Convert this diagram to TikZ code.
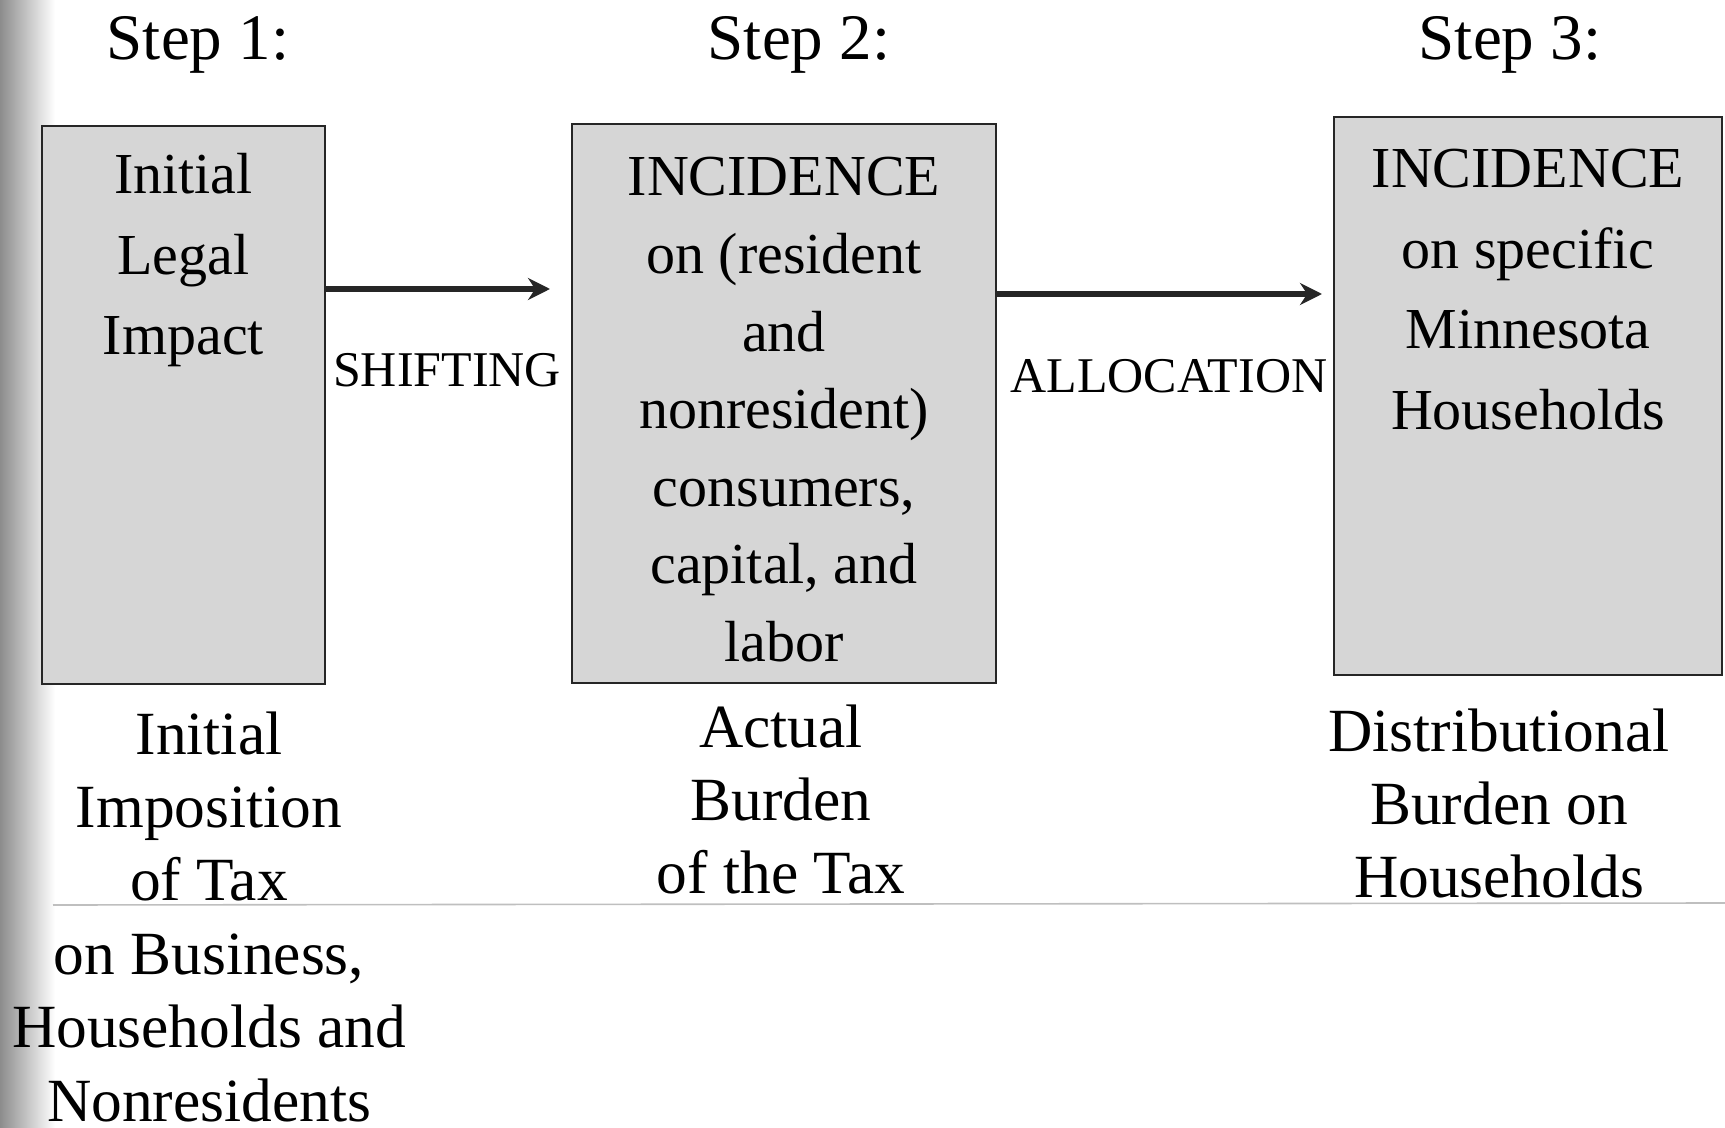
\documentclass[tikz,border=0pt]{standalone}
\usepackage{fontspec}
\setmainfont{Liberation Serif}
\usepackage{xcolor}
\usetikzlibrary{arrows.meta}
\definecolor{boxfillc}{HTML}{D6D6D6}
\colorlet{boxfill}{boxfillc}
\colorlet{boxline}{black!85}
\colorlet{scanline}{black!25}
\tikzstyle{stepbox} = [
    draw=boxline,
    fill=boxfill,
    line width=1pt,
    rectangle,
    inner sep=0pt
    ]
\tikzstyle{boxtext} = [
    font=\fontsize{29}{40.2}\selectfont,
    align=center,
    inner sep=0pt,
    anchor=north
    ]
\tikzstyle{captext} = [
    font=\fontsize{30.7}{36.7}\selectfont,
    align=center,
    inner sep=0pt,
    anchor=north
    ]
\tikzstyle{steptitle} = [font=\fontsize{32.5}{39}\selectfont, inner sep=0pt, anchor=base]
\tikzstyle{arrowlabel} = [font=\fontsize{25}{30}\selectfont, inner sep=0pt, anchor=base]
\tikzstyle{flowarrow} = [
    -{Stealth[length=11pt,width=11pt]},
    line width=3pt,
    draw=boxline
    ]

\begin{document}
\begin{tikzpicture}[x=0.5pt,y=-0.5pt]
\useasboundingbox (0,0) rectangle (1725,1128);
% scan edge and rule
\shade[left color=black!45, right color=white] (0,0) rectangle (55,1128);
\draw[scanline, line width=0.8pt] (53,905) -- (1725,903);

% step titles
\node[steptitle] (stepone) at (198,60) {Step 1:};
\node[steptitle] (steptwo) at (799,60) {Step 2:};
\node[steptitle] (stepthree) at (1510,60) {Step 3:};

% boxes
\node[stepbox, minimum width=141.5pt, minimum height=279pt] (impact) at (183.5,405) {};
\node[stepbox, minimum width=212pt, minimum height=279.5pt] (actual) at (784,403.5) {};
\node[stepbox, minimum width=194pt, minimum height=279pt] (households) at (1528,396) {};

\node[boxtext] (impacttext) at (183.5,153) {Initial\\Legal\\Impact};
\node[boxtext, font=\fontsize{29}{38.8}\selectfont] (actualtext) at (784,157) {INCIDENCE\\on (resident\\and\\nonresident)\\consumers,\\capital, and\\labor};
\node[boxtext] (householdstext) at (1528,149) {INCIDENCE\\on specific\\Minnesota\\Households};

% captions
\node[captext] (impactcap) at (209,711) {Initial\\Imposition\\of Tax\\on Business,\\Households and\\Nonresidents};
\node[captext] (actualcap) at (781,704) {Actual\\Burden\\of the Tax};
\node[captext] (householdscap) at (1499,708) {Distributional\\Burden on\\Households};

% arrows
\coordinate (shiftend) at (550,289);
\coordinate (allocend) at (1322,294);
\draw[flowarrow] (impact.east |- shiftend) -- (shiftend);
\draw[flowarrow] (actual.east |- allocend) -- (allocend);
\node[arrowlabel] (shifting) at (447,387) {SHIFTING};
\node[arrowlabel] (allocation) at (1169,393) {ALLOCATION};
\end{tikzpicture}
\end{document}
